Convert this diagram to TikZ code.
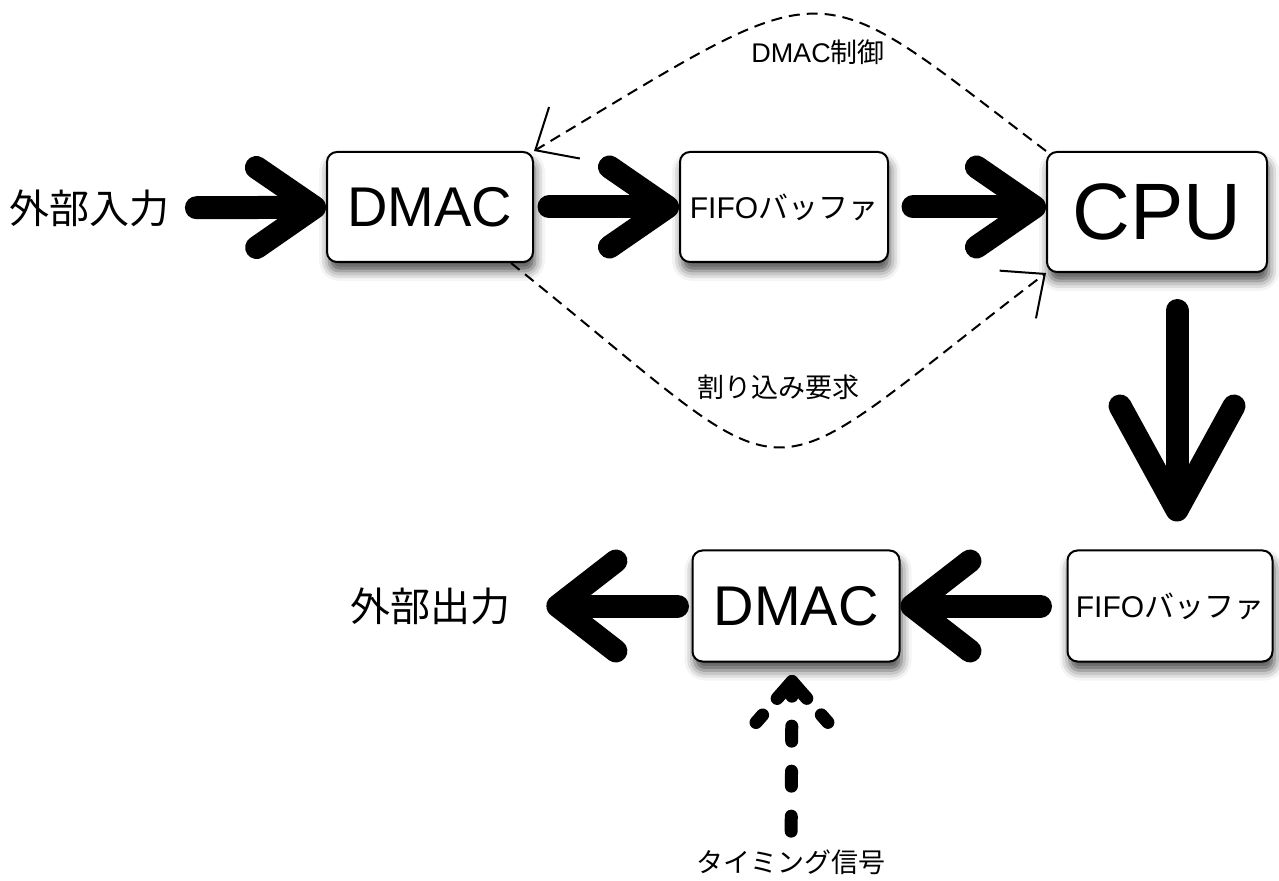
\documentclass[tikz,border=0pt]{standalone}
\usepackage{fontspec}
\setmainfont{Liberation Sans}
\newfontfamily\jpfont{Noto Sans CJK JP}
\usetikzlibrary{arrows.meta,shadows.blur}

\begin{document}
\begin{tikzpicture}[x=0.5pt, y=-0.5pt,
        box/.style = {draw, line width=1pt, rounded corners=5pt, fill=white, align=center,
            blur shadow={shadow xshift=1pt, shadow yshift=-4.5pt, shadow blur radius=5pt, shadow opacity=70}},
        extlabel/.style = {inner sep=0pt, font=\jpfont\fontsize{20pt}{24pt}\selectfont},
        smalllabel/.style = {inner sep=0pt, font=\fontsize{13.5pt}{16pt}\selectfont},
        bigarrow/.style = {line width=11.5pt, line cap=round, line join=round,
            -{Straight Barb[round, length=29pt, width=40pt]}},
        widehead/.style = {-{Straight Barb[round, length=29pt, width=45pt]}},
        longhead/.style = {-{Straight Barb[round, length=52pt, width=57pt]}},
        ctrlline/.style = {line width=1pt, dash pattern=on 5.5pt off 3.5pt,
            -{Straight Barb[length=17pt, width=30pt]}},
        sigline/.style = {line width=6.5pt, line cap=round, line join=round}]
    \useasboundingbox (0,0) rectangle (1279,881);

    % upper row
    \node[box, minimum width=103pt, minimum height=55pt, font=\fontsize{28pt}{32pt}\selectfont] (dmac1) at (430,207) {DMAC};
    \node[box, minimum width=104pt, minimum height=55pt, inner sep=1pt, font=\fontsize{15pt}{18pt}\selectfont] (fifo1) at (784,207) {FIFO{\jpfont バッファ}};
    \node[box, minimum width=110pt, minimum height=60pt, font=\fontsize{40pt}{44pt}\selectfont] (cpu) at (1157,212) {CPU};

    % lower row
    \node[box, minimum width=102.5pt, minimum height=55.5pt, inner sep=1pt, font=\fontsize{15pt}{18pt}\selectfont] (fifo2) at (1170,606) {FIFO{\jpfont バッファ}};
    \node[box, minimum width=103.5pt, minimum height=55.5pt, font=\fontsize{28pt}{32pt}\selectfont] (dmac2) at (796,606) {DMAC};

    \node[extlabel] (in) at (90,208) {外部入力};
    \node[extlabel] (out) at (430,606) {外部出力};
    \node[smalllabel] (ctrl) at (818,52) {DMAC{\jpfont 制御}};
    \node[smalllabel, font=\jpfont\fontsize{13.5pt}{16pt}\selectfont] (irq) at (778,387) {割り込み要求};
    \node[smalllabel, font=\jpfont\fontsize{13.5pt}{16pt}\selectfont] (sig) at (791,862) {タイミング信号};

    % data path
    \draw[bigarrow, shorten <=13pt] (in) -- (dmac1);
    \draw[bigarrow, shorten <=7.5pt] (dmac1) -- (fifo1);
    \draw[bigarrow, shorten <=12pt] (fifo1.east) -- (fifo1.east -| cpu.west);
    \draw[bigarrow, longhead, shorten <=18.75pt, shorten >=14pt] ([xshift=10pt]cpu.south) -- ([xshift=3.5pt]fifo2.north);
    \draw[bigarrow, widehead, shorten <=13pt] (fifo2) -- (dmac2);
    \draw[bigarrow, widehead, shorten <=7pt, shorten >=18pt] (dmac2) -- (out);

    % control and interrupt
    \draw[ctrlline] (cpu.north west) .. controls (805,-32) and (840,-32) .. (dmac1.north east);
    \draw[ctrlline] ([xshift=-11.5pt]dmac1.south east) .. controls (816,507) and (739,507) .. (cpu.south west);

    % timing signal
    \coordinate (tiptop) at ([xshift=-2pt, yshift=-9.5pt]dmac2.south);
    \draw[sigline, dash pattern=on 7.5pt off 15pt, shorten <=9pt] (sig) -- (tiptop);
    \draw[sigline, dash pattern=on 5pt off 11pt on 22.5pt off 11pt on 5pt] ([shift={(-36,41)}]tiptop) -- (tiptop) -- ++(36,41);
\end{tikzpicture}
\end{document}
